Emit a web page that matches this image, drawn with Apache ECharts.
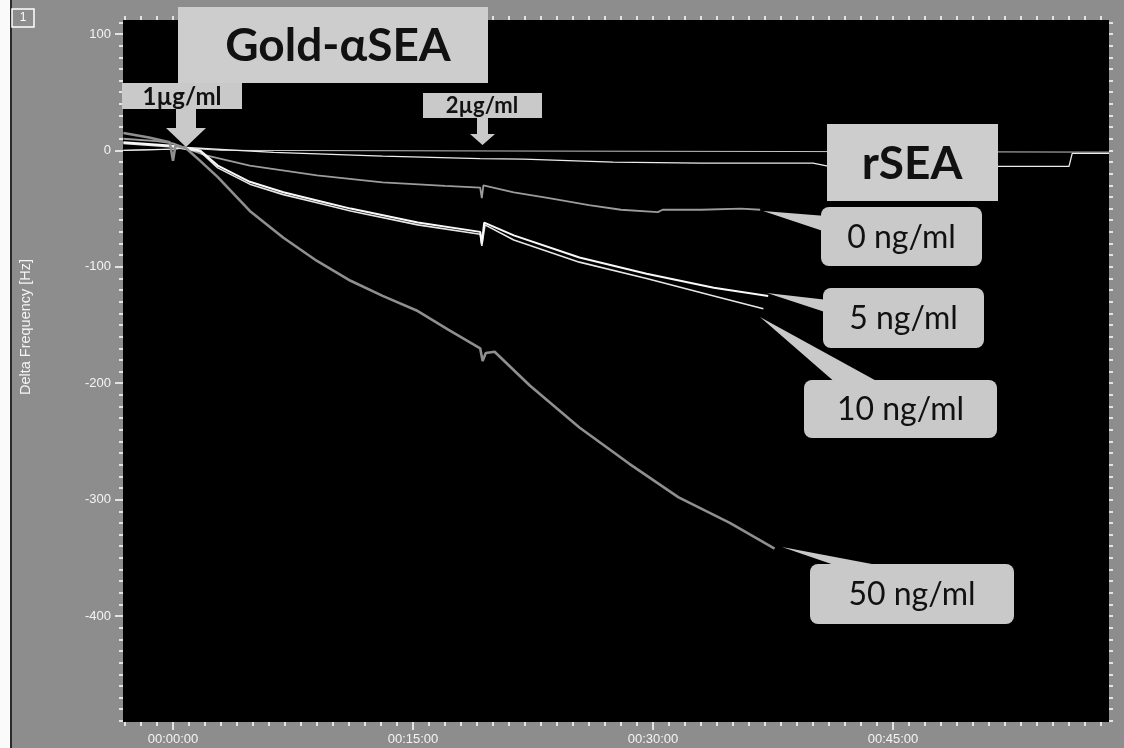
<!DOCTYPE html>
<html>
<head>
<meta charset="utf-8">
<script src="https://cdn.jsdelivr.net/npm/echarts@6/dist/echarts.min.js"></script>
<style>
  html, body { margin: 0; padding: 0; background: #8d8d8d; }
  #main { width: 1124px; height: 748px; }
</style>
</head>
<body>
<div id="main"></div>
<script>
// tick labels
var minuteLabels = [0, 15, 30, 45];
var hzLabels = [100, 0, -100, -200, -300, -400];

// [minutes, Hz]
var flatLine = [[-3.1, 0], [0, 1], [0.8, 2], [3, 0], [20, -0.5], [40, -1], [58.5, -1.5]];
var driftLine = [[-3.1, 0], [0, 1], [0.8, 2.5], [6.3, -1.7], [13.1, -5], [19.2, -7], [21.9, -7.5], [22, -8.6],
  [27.5, -10], [33, -11], [40, -11], [41, -13.8], [56, -13.8], [56.2, -2.6], [58.5, -2.6]];
var ng0 = [[-3.1, 10], [-1, 8], [0, 6], [0.8, 2], [2, -4], [4.8, -13], [9, -21.5], [13.1, -27.5], [17, -30.5],
  [19.2, -32], [19.3, -41], [19.4, -30], [21.3, -36], [23.5, -41], [26, -47], [28, -51], [30.3, -53],
  [30.6, -51], [33, -51], [35.5, -50], [36.7, -51]];
var ng5 = [[-3.1, 7], [0, 4], [0.8, 2], [1.7, 0], [2.8, -13], [4.8, -27], [6.9, -36], [9, -43], [11.1, -50],
  [15.3, -62], [19.2, -70], [19.3, -80], [19.45, -62], [21.3, -73], [25.4, -92], [29.6, -106],
  [33.8, -118], [37.2, -125]];
var ng10 = [[-3.1, 6], [0, 3], [0.8, 1], [1.7, -1], [2.8, -15], [4.8, -29], [6.9, -38], [9, -45], [11.1, -52],
  [15.3, -64], [19.2, -72], [19.3, -82], [19.5, -64], [21.3, -77], [25.4, -96], [29.6, -110],
  [33.8, -125], [36.9, -136]];
var ng50 = [[-3.1, 15], [-1.5, 11], [-0.2, 7], [0, -9], [0.15, 4], [0.8, 2], [1.7, -9], [2.8, -23], [4.8, -52],
  [6.9, -75], [9, -95], [11.1, -112], [13.1, -125], [15.3, -138], [17.2, -154], [19.2, -170],
  [19.35, -181], [19.55, -174], [20.1, -173], [22.3, -202], [25.4, -238], [28.5, -269],
  [31.6, -298], [34.8, -320], [37.6, -342]];

var minorMinutes = [];
for (var m = -3; m <= 58; m++) minorMinutes.push(m);
var minorHz = [];
for (var h = -490; h <= 110; h += 10) minorHz.push(h);

var xMin = -3.125, xMax = 58.5, yMin = -491, yMax = 112;
var labelFont = { color: '#f4f4f4', fontFamily: 'Liberation Sans', fontSize: 13 };
var boxFill = '#c9c9c9';

function pad (n) { return (n < 10 ? '0' : '') + n; }

function tickAxis (pos, vals, len, labels) {
  var vertical = pos === 'left' || pos === 'right';
  var ax = {
    type: 'value', position: pos, min: vertical ? yMin : xMin, max: vertical ? yMax : xMax,
    axisLine: { show: false, onZero: false }, splitLine: { show: false },
    axisTick: { show: true, length: len, customValues: vals, lineStyle: { color: '#fff', width: 1.5 } },
    axisLabel: { show: false }
  };
  if (labels) {
    ax.axisLabel = Object.assign({ show: true, customValues: labels }, labelFont);
  }
  return ax;
}

var xLab = tickAxis('bottom', minuteLabels, 8, minuteLabels);
xLab.axisLabel.margin = 11;
xLab.axisLabel.formatter = function (v) { return '00:' + pad(v) + ':00'; };
var yLab = tickAxis('left', hzLabels, 8, hzLabels);
yLab.axisLabel.margin = 12;

function callout (pointer, x, y, w, hgt, text) {
  return [
    { type: 'polygon', z: 100, shape: { points: pointer }, style: { fill: boxFill } },
    { type: 'rect', z: 100, shape: { x: x, y: y, width: w, height: hgt, r: 8 }, style: { fill: boxFill } },
    { type: 'text', z: 101, x: x + w / 2, y: y + hgt / 2 + 1,
      style: { text: text, fill: '#111', font: '32px Lato, "Open Sans"', align: 'center', verticalAlign: 'middle' } }
  ];
}

var graphics = [
  { type: 'rect', shape: { x: 0, y: 0, width: 10, height: 748 }, style: { fill: '#fafafa' } },
  { type: 'line', shape: { x1: 11, y1: 0, x2: 11, y2: 748 }, style: { stroke: '#2a2a2a', lineWidth: 2 } },
  { type: 'rect', shape: { x: 12, y: 9, width: 22, height: 18 }, style: { fill: 'none', stroke: '#fff', lineWidth: 1.5 } },
  { type: 'text', x: 23, y: 18, style: { text: '1', fill: '#fff', font: '12px "Liberation Sans"', align: 'center', verticalAlign: 'middle' } },
  { type: 'text', x: 26, y: 327, rotation: Math.PI / 2,
    style: { text: 'Delta Frequency [Hz]', fill: '#f4f4f4', font: '14.5px "Liberation Sans"', align: 'center', verticalAlign: 'middle' } },
  // Gold-αSEA + 1µg/ml
  { type: 'rect', z: 100, shape: { x: 178, y: 7, width: 310, height: 76 }, style: { fill: '#cdcdcd' } },
  { type: 'text', z: 101, x: 338, y: 46,
    style: { text: 'Gold-αSEA', fill: '#111', font: 'bold 46px Lato, "Open Sans"', align: 'center', verticalAlign: 'middle' } },
  { type: 'rect', z: 100, shape: { x: 122, y: 83, width: 120, height: 26 }, style: { fill: boxFill } },
  { type: 'text', z: 101, x: 182, y: 97,
    style: { text: '1µg/ml', fill: '#111', font: 'bold 24px Lato, "Open Sans"', align: 'center', verticalAlign: 'middle' } },
  { type: 'polygon', z: 100, shape: { points: [[176, 109], [196, 109], [196, 128], [206, 128], [186, 147], [166, 128], [176, 128]] },
    style: { fill: boxFill } },
  // 2µg/ml
  { type: 'rect', z: 100, shape: { x: 423, y: 93, width: 119, height: 25 }, style: { fill: boxFill } },
  { type: 'text', z: 101, x: 482, y: 106,
    style: { text: '2µg/ml', fill: '#111', font: 'bold 22px Lato, "Open Sans"', align: 'center', verticalAlign: 'middle' } },
  { type: 'polygon', z: 100, shape: { points: [[477, 118], [488, 118], [488, 134], [495, 134], [482.5, 145], [470, 134], [477, 134]] },
    style: { fill: boxFill } },
  // rSEA
  { type: 'rect', z: 100, shape: { x: 827, y: 124, width: 171, height: 77 }, style: { fill: '#cdcdcd' } },
  { type: 'text', z: 101, x: 912, y: 164,
    style: { text: 'rSEA', fill: '#111', font: 'bold 46px Lato, "Open Sans"', align: 'center', verticalAlign: 'middle' } }
];
graphics = graphics
  .concat(callout([[763, 211], [826, 216], [826, 232]], 821, 207, 161, 59, '0 ng/ml'))
  .concat(callout([[767, 293], [828, 300], [828, 313]], 823, 288, 161, 60, '5 ng/ml'))
  .concat(callout([[760, 317], [837, 384], [882, 384]], 804, 380, 193, 58, '10 ng/ml'))
  .concat(callout([[782, 547], [843, 568], [893, 568]], 810, 564, 204, 60, '50 ng/ml'));

function line (data, color, width) {
  return {
    type: 'line', data: data, showSymbol: false, xAxisIndex: 0, yAxisIndex: 0,
    lineStyle: { color: color, width: width }, z: 5
  };
}

var dom = document.getElementById('main');
var myChart = echarts.init(dom);
var option = {
  backgroundColor: '#8d8d8d',
  animation: false,
  grid: { left: 123, right: 15, top: 20, bottom: 26, show: true, backgroundColor: '#000', borderWidth: 0 },
  xAxis: [
    xLab,
    tickAxis('bottom', minorMinutes, 4),
    tickAxis('top', minorMinutes, 4)
  ],
  yAxis: [
    yLab,
    tickAxis('left', minorHz, 4),
    tickAxis('right', minorHz, 4)
  ],
  graphic: graphics,
  series: [
    line(flatLine, '#c4c4c4', 1),
    line(driftLine, '#ececec', 1.3),
    line(ng0, '#9c9c9c', 1.8),
    line(ng10, '#e6e6e6', 1.6),
    line(ng5, '#fafafa', 2),
    line(ng50, '#8f8f8f', 2.6)
  ]
};
myChart.setOption(option);
</script>
</body>
</html>
